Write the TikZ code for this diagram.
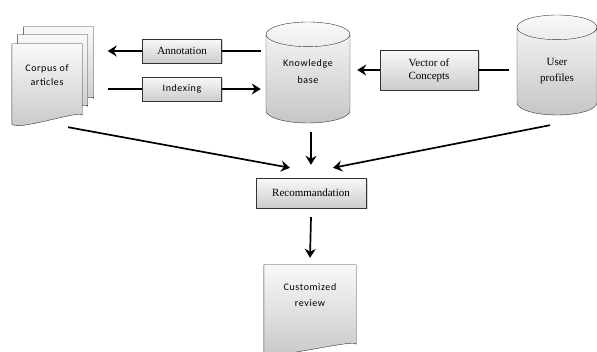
\documentclass[tikz,border=0pt]{standalone}
\usepackage{fontspec}
\setmainfont{Liberation Serif}
\newfontfamily\docfont[LetterSpace=6]{Carlito}
\usetikzlibrary{shapes.geometric,shadows,arrows.meta}
\tikzset{box/.style={draw=black!80, top color=gray!5, bottom color=gray!40, drop shadow={shadow xshift=1.5pt, shadow yshift=-1.5pt, opacity=0.35}, align=center, font=\fontsize{11}{13}\selectfont},
%cylinders for the two bases
base/.style={cylinder, shape border rotate=90, aspect=0.42, text width=52pt, anchor=shape center, draw=black!80, top color=gray!5, bottom color=gray!45},
page/.style={minimum width=70pt, minimum height=79pt, inner sep=0pt},
link/.style={line width=1.7pt},
arrow/.style={link, -{Stealth[length=9pt, width=11pt, inset=3pt]}}}
% document page with a wavy bottom, drawn round a node
\newcommand{\docpage}[1]{%
\draw[draw=black!80, top color=gray!5, bottom color=gray!45]
 (#1.north west) -- (#1.north east) -- ([yshift=8pt]#1.south east)
 .. controls ([xshift=-0.35*\pgfkeysvalueof{/pgf/minimum width}, yshift=14pt]#1.south east)
 and ([xshift=0.35*\pgfkeysvalueof{/pgf/minimum width}, yshift=-10pt]#1.south west) .. (#1.south west) -- cycle;}

\begin{document}
\begin{tikzpicture}[x=1pt, y=-1pt]
\useasboundingbox (0,0) rectangle (597,352);

% corpus, three pages
\node[page] (back) at (58.5,66.5) {};
\node[page] (middle) at (52.5,74.5) {};
\node[page] (front) at (47,83.5) {};
\docpage{back}
\docpage{middle}
\docpage{front}
\node[font=\docfont\fontsize{10}{14}\selectfont, align=center] (corpustext) at (47,75) {Corpus of\\articles};

\node[box, minimum width=79pt, minimum height=24pt] (ann) at (182,51) {Annotation};
\node[box, minimum width=79pt, minimum height=24pt, font=\docfont\fontsize{10}{12}\selectfont] (idx) at (182,89) {Indexing};
\node[base, minimum width=84pt, minimum height=101pt] (kb) at (308,72.5) {};
\node[font=\docfont\fontsize{10}{17}\selectfont, align=center] (kbtext) at (308,72) {Knowledge\\base};
\node[box, minimum width=98pt, minimum height=40pt] (vec) at (429,70) {Vector of\\Concepts};
\node[base, minimum width=80pt, minimum height=100pt] (up) at (557,65) {};
\node[font=\fontsize{11}{16}\selectfont, align=center] (uptext) at (557,71) {User\\profiles};
\node[box, minimum width=110pt, minimum height=30pt] (rec) at (311,193) {Recommandation};

% customized review
\node[page, minimum width=92pt, minimum height=87pt] (review) at (310,308.5) {};
\docpage{review}
\node[font=\docfont\fontsize{10}{16}\selectfont, align=center] (reviewtext) at (310,295) {Customized\\review};

\draw[link] ([xshift=-5pt]kb.west |- ann.east) -- (ann.east);
\draw[arrow] (ann.west) -- ([xshift=14pt]back.east |- ann.west);
\draw[link] ([xshift=14pt]back.east |- idx.west) -- (idx.west);
\draw[arrow] (idx.east) -- ([xshift=-5pt]kb.west |- idx.east);
\draw[link] ([xshift=-8pt]up.west |- vec.east) -- (vec.east);
\draw[arrow] (vec.west) -- ([xshift=7pt]kb.east |- vec.west);

\draw[arrow] ([xshift=21pt, yshift=-4pt]front.south) -- ([xshift=-21pt, yshift=10pt]rec.north);
\draw[arrow] ([yshift=-9pt]rec.north |- kb.south) -- ([yshift=13pt]rec.north);
\draw[arrow] ([xshift=-7pt, yshift=-10pt]up.south) -- ([xshift=22pt, yshift=10pt]rec.north);
\draw[arrow] ([yshift=-9pt]rec.south) -- ([yshift=7pt]review.north);
\end{tikzpicture}
\end{document}
